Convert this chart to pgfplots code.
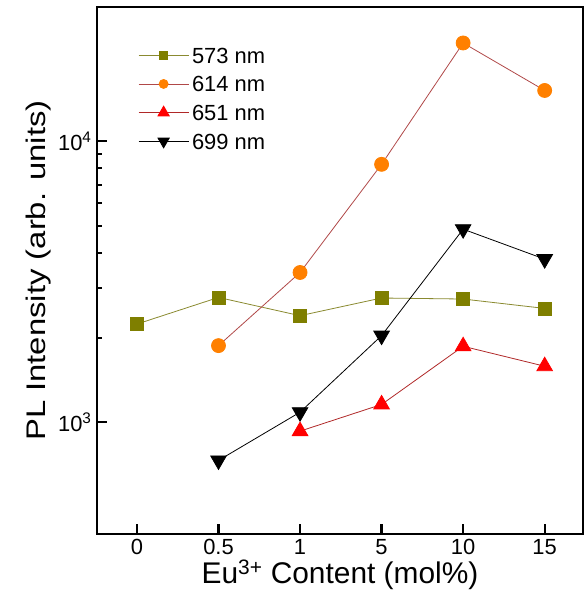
\documentclass[border=0pt]{standalone}
\usepackage{fontspec}
\setmainfont{Liberation Sans}
\usepackage{pgfplots}
\pgfplotsset{compat=1.18}
\definecolor{c573}{HTML}{7F7F00}
\definecolor{l573}{HTML}{8A8A30}
\definecolor{c614}{HTML}{FF8000}
\definecolor{l614}{HTML}{B04848}
\definecolor{c651}{HTML}{FF0000}
\definecolor{l651}{HTML}{B02828}
\begin{document}
\begin{tikzpicture}
\begin{axis}[
  at={(0,0)}, anchor=south west,
  scale only axis, width=486bp, height=527bp,
  ymode=log,
  xmin=-0.49, xmax=5.47,
  ymin=400, ymax=30000,
  axis line style={line width=2.4bp},
  xtick={0,1,2,3,4,5},
  xticklabels={0,0.5,1,5,10,15},
  ytick={1000,10000},
  yticklabels={10\textsuperscript{3},10\textsuperscript{4}},
  xtick pos=bottom, ytick pos=left,
  tick align=inside,
  major tick length=10bp, minor tick length=5bp,
  every tick/.style={black, line width=2.2bp},
  minor tick style={line width=2bp},
  tick label style={font=\fontsize{22}{25}\selectfont},
  xticklabel style={yshift=-2bp},
  yticklabel style={xshift=-2bp},
  xlabel={Eu\textsuperscript{3+} Content (mol\%)},
  ylabel={\scalebox{1.22}[1]{PL Intensity (arb. units)}},
  xlabel style={font=\fontsize{30}{33}\selectfont, yshift=2bp},
  ylabel style={font=\fontsize{27}{30}\selectfont},
  legend style={at={(0.0844,0.924)}, anchor=north west, draw=none, fill=none,
    font=\fontsize{22}{25}\selectfont, row sep=12.7bp, inner sep=0pt,
    nodes={text height=16bp, text depth=0bp, inner sep=0pt, inner xsep=3bp}},
  legend cell align=left,
  legend image code/.code={\draw[mark=none] (0bp,0bp) -- (50bp,0bp); \draw plot coordinates {(25bp,0bp)};},
]
\addplot[l573, line width=0.8bp, mark=square*, mark size=6.5bp, mark options={draw=c573, fill=c573},
  legend image post style={mark size=4bp}]
  coordinates {(0,2234) (1,2778) (2,2392) (3,2765) (4,2742) (5,2539)};
\addlegendentry{573 nm}
\addplot[l614, line width=0.8bp, mark=*, mark size=7bp, mark options={draw=c614, fill=c614},
  legend image post style={mark size=4.5bp}]
  coordinates {(1,1872) (2,3408) (3,8266) (4,22340) (5,15140)};
\addlegendentry{614 nm}
\addplot[l651, line width=0.8bp, mark=triangle*, mark size=9bp, mark options={draw=c651, fill=c651},
  legend image post style={mark size=6.5bp}]
  coordinates {(2,929) (3,1156) (4,1862) (5,1581)};
\addlegendentry{651 nm}
\addplot[black, line width=0.8bp, mark=triangle*, mark size=9bp, mark options={draw=black, fill=black, rotate=180},
  legend image post style={mark size=6.5bp}]
  coordinates {(1,731) (2,1085) (3,2032) (4,4859) (5,3802)};
\addlegendentry{699 nm}
\end{axis}
\pgfresetboundingbox
\path[use as bounding box] (-97bp,-79bp) rectangle (491bp,534bp);
\end{tikzpicture}
\end{document}
